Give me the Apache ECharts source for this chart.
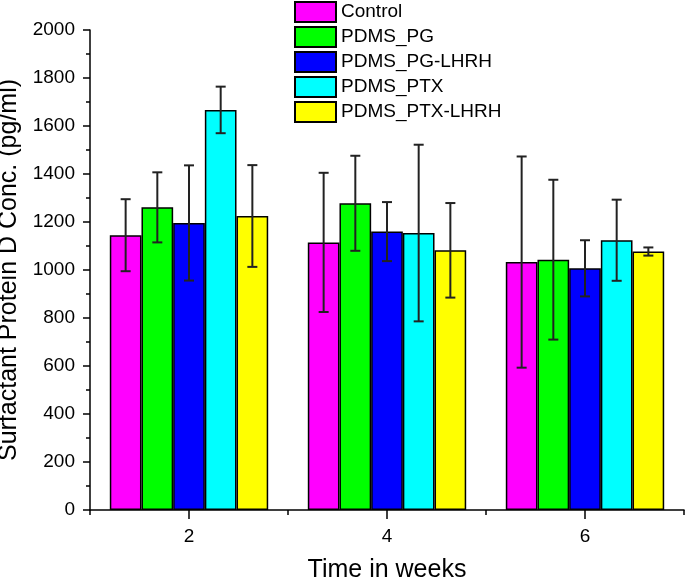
<!DOCTYPE html>
<html>
<head>
<meta charset="utf-8">
<script src="https://cdn.jsdelivr.net/npm/echarts@6/dist/echarts.min.js"></script>
<style>html,body{margin:0;padding:0;background:#fff;}#chart{width:685px;height:581px;}</style>
</head>
<body>
<div id="chart"></div>
<script>
var categories = ['2', '4', '6'];
var seriesNames = ['Control', 'PDMS_PG', 'PDMS_PG-LHRH', 'PDMS_PTX', 'PDMS_PTX-LHRH'];
var control = [1145, 1115, 1033];
var controlErr = [150, 290, 440];
var pdmsPG = [1261, 1278, 1043];
var pdmsPGErr = [146, 198, 333];
var pdmsPGLHRH = [1196, 1160, 1007];
var pdmsPGLHRHErr = [240, 123, 117];
var pdmsPTX = [1667, 1154, 1124];
var pdmsPTXErr = [97, 368, 169];
var pdmsPTXLHRH = [1225, 1082, 1077];
var pdmsPTXLHRHErr = [212, 197, 17];
var yTicks = [0, 200, 400, 600, 800, 1000, 1200, 1400, 1600, 1800, 2000];

var colors = ['#FF00FF', '#00FF00', '#0000FF', '#00FFFF', '#FFFF00'];
var means = [control, pdmsPG, pdmsPGLHRH, pdmsPTX, pdmsPTXLHRH];
var errs = [controlErr, pdmsPGErr, pdmsPGLHRHErr, pdmsPTXErr, pdmsPTXLHRHErr];
var BAR_FRAC = 0.16;
var FONT = '"Liberation Sans", Arial, sans-serif';

var series = [];
seriesNames.forEach(function (name, k) {
  series.push({
    name: name,
    type: 'bar',
    xAxisIndex: 0,
    data: means[k],
    barWidth: (BAR_FRAC * 100) + '%',
    barGap: '0%',
    itemStyle: { color: colors[k], borderColor: '#000', borderWidth: 1.5 },
    z: 2
  });
});
seriesNames.forEach(function (name, k) {
  var data = categories.map(function (c, i) { return [i, means[k][i], errs[k][i]]; });
  series.push({
    type: 'custom',
    xAxisIndex: 0,
    data: data,
    encode: { x: 0, y: 1 },
    z: 10,
    silent: true,
    renderItem: function (params, api) {
      var idx = api.value(0), m = api.value(1), e = api.value(2);
      var band = api.size([1, 0])[0];
      var off = (k - 2) * band * BAR_FRAC;
      var x = api.coord([idx, m])[0] + off;
      var yt = api.coord([idx, m + e])[1];
      var yb = api.coord([idx, m - e])[1];
      var cap = 5;
      var st = { stroke: '#222', lineWidth: 2 };
      return {
        type: 'group',
        children: [
          { type: 'line', shape: { x1: x, y1: yt, x2: x, y2: yb }, style: st },
          { type: 'line', shape: { x1: x - cap, y1: yt, x2: x + cap, y2: yt }, style: st },
          { type: 'line', shape: { x1: x - cap, y1: yb, x2: x + cap, y2: yb }, style: st }
        ]
      };
    }
  });
});

var chart = echarts.init(document.getElementById('chart'));
chart.setOption({
  animation: false,
  backgroundColor: '#fff',
  grid: { left: 90, right: 1, top: 30, bottom: 71, containLabel: false, outerBoundsMode: 'none' },
  legend: {
    data: seriesNames,
    orient: 'vertical',
    left: 294,
    top: 1,
    icon: 'rect',
    itemWidth: 41,
    itemHeight: 20,
    itemGap: 3,
    padding: 0,
    textStyle: { fontFamily: FONT, fontSize: 19, color: '#000', lineHeight: 20 },
    selectedMode: false
  },
  xAxis: [{
    type: 'category',
    data: categories,
    position: 'bottom',
    name: 'Time in weeks',
    nameLocation: 'middle',
    nameGap: 48,
    nameTextStyle: { fontFamily: FONT, fontSize: 25, color: '#000' },
    axisLine: { show: true, lineStyle: { color: '#000', width: 1.5 } },
    axisTick: { show: true, alignWithLabel: true, length: 9, lineStyle: { color: '#000', width: 1.5 } },
    axisLabel: { fontFamily: FONT, fontSize: 19, color: '#000', margin: 17 },
    splitLine: { show: false }
  }, {
    type: 'category',
    data: categories,
    position: 'bottom',
    axisLine: { show: false },
    axisTick: { show: true, alignWithLabel: false, length: 5, lineStyle: { color: '#000', width: 1.5 } },
    axisLabel: { show: false },
    splitLine: { show: false }
  }],
  yAxis: {
    type: 'value',
    min: yTicks[0],
    max: yTicks[yTicks.length - 1],
    interval: 200,
    name: 'Surfactant Protein D Conc. (pg/ml)',
    nameLocation: 'middle',
    nameRotate: 90,
    nameGap: 62,
    nameTextStyle: { fontFamily: FONT, fontSize: 25, color: '#000' },
    axisLine: { show: true, lineStyle: { color: '#000', width: 1.5 } },
    axisTick: { show: true, length: 7, lineStyle: { color: '#000', width: 1.5 } },
    minorTick: { show: true, splitNumber: 2, length: 4, lineStyle: { color: '#000', width: 1.5 } },
    axisLabel: { fontFamily: FONT, fontSize: 19, color: '#000', margin: 15, formatter: function (v) { return String(v); } },
    splitLine: { show: false },
    minorSplitLine: { show: false }
  },
  series: series
});
</script>
</body>
</html>
